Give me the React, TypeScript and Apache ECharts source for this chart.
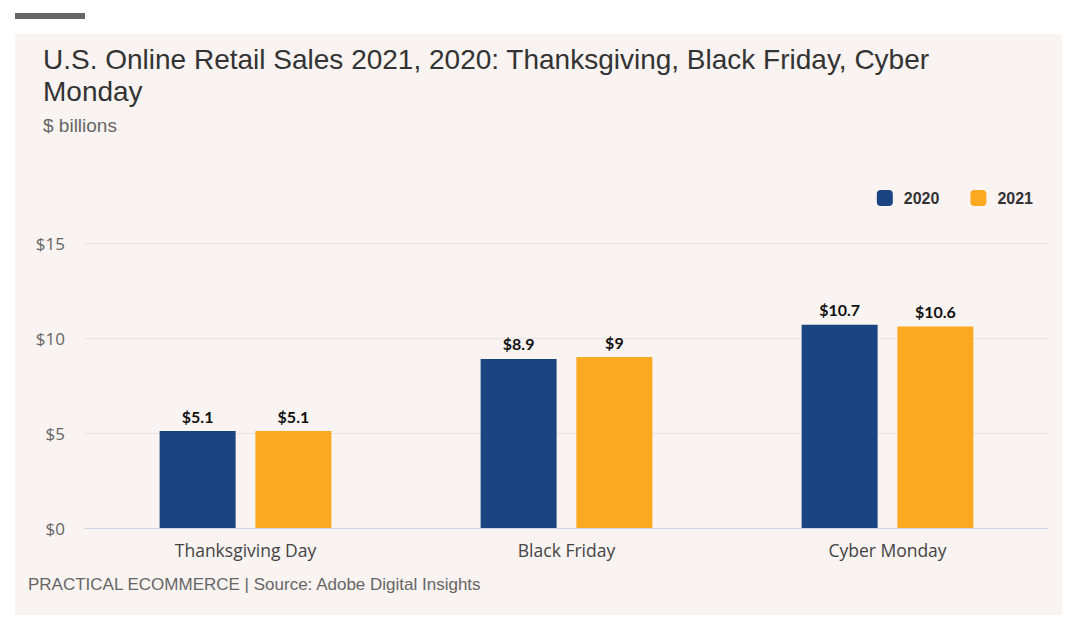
import React, { useEffect, useRef } from "react";
import * as echarts from "echarts";

const categories = ["Thanksgiving Day", "Black Friday", "Cyber Monday"];
const sales2020 = [5.1, 8.9, 10.7];
const sales2021 = [5.1, 9, 10.6];
const yTicks = [0, 5, 10, 15];

export default function App() {
  const ref = useRef<HTMLDivElement>(null);
  useEffect(() => {
    document.body.style.margin = "0";
    const chart = echarts.init(ref.current!, null, { renderer: "svg" });
    const labelStyle = {
      show: true,
      position: "top" as const,
      distance: 7,
      formatter: (p: any) => "$" + p.value,
      fontFamily: "Lato",
      fontWeight: "bold" as const,
      fontSize: 16,
      color: "#111",
    };
    chart.setOption({
      animation: false,
      backgroundColor: "#ffffff",
      graphic: [
        { type: "rect", shape: { x: 15, y: 13, width: 70, height: 6 }, style: { fill: "#666" }, z: -10 },
        { type: "rect", shape: { x: 15, y: 34, width: 1047, height: 581 }, style: { fill: "#f9f3f1" }, z: -10 },
        {
          type: "text",
          left: 43,
          top: 43,
          style: {
            text: "U.S. Online Retail Sales 2021, 2020: Thanksgiving, Black Friday, Cyber\nMonday",
            font: "28px 'Liberation Sans', Arial, sans-serif",
            fill: "#333",
            lineHeight: 32,
          },
        },
        {
          type: "text",
          left: 43,
          top: 116,
          style: { text: "$ billions", font: "19px 'Liberation Sans', Arial, sans-serif", fill: "#666" },
        },
        {
          type: "text",
          left: 28,
          top: 576,
          style: {
            text: "PRACTICAL ECOMMERCE | Source: Adobe Digital Insights",
            font: "17px 'Liberation Sans', Arial, sans-serif",
            fill: "#666",
          },
        },
      ],
      legend: {
        top: 185,
        right: 42,
        itemWidth: 16,
        itemHeight: 16,
        itemGap: 31,
        icon: "roundRect",
        textStyle: {
          fontFamily: "'Liberation Sans', Arial, sans-serif",
          fontWeight: "bold",
          fontSize: 16,
          color: "#333",
          padding: [0, 0, 0, 6],
        },
        data: ["2020", "2021"],
      },
      grid: { left: 85, right: 32, top: 243, bottom: 108, containLabel: false },
      xAxis: {
        type: "category",
        data: categories,
        axisTick: { show: false },
        axisLine: { lineStyle: { color: "#ccd6eb", width: 1 } },
        axisLabel: { fontFamily: "'Open Sans'", fontSize: 17.5, color: "#444", margin: 13 },
      },
      yAxis: {
        type: "value",
        min: 0,
        max: yTicks[yTicks.length - 1],
        interval: 5,
        axisLabel: {
          fontFamily: "'Open Sans'",
          fontSize: 17,
          color: "#666",
          margin: 20,
          formatter: (v: number) => "$" + v,
        },
        splitLine: { lineStyle: { color: "#e8e3e2" } },
        axisLine: { show: false },
        axisTick: { show: false },
      },
      series: [
        {
          name: "2020",
          type: "bar",
          data: sales2020,
          barWidth: 76,
          barGap: "26%",
          itemStyle: { color: "#1b4580" },
          label: labelStyle,
        },
        {
          name: "2021",
          type: "bar",
          data: sales2021,
          barWidth: 76,
          itemStyle: { color: "#fca922" },
          label: labelStyle,
        },
      ],
    });
    return () => chart.dispose();
  }, []);
  return <div ref={ref} style={{ width: 1080, height: 636 }} />;
}
